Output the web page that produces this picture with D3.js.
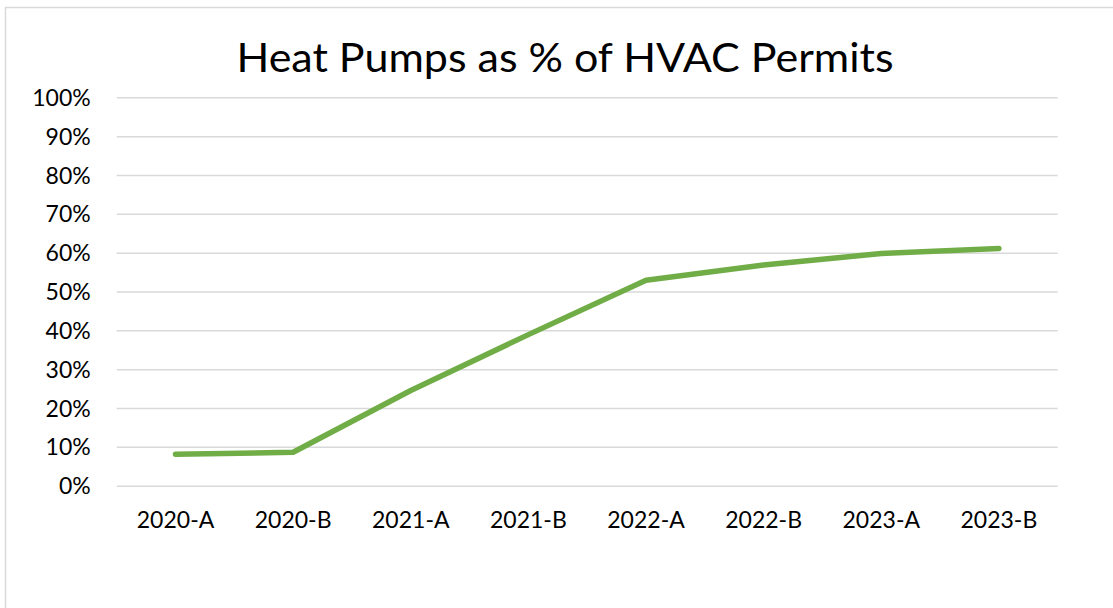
<!DOCTYPE html>
<html>
<head>
<meta charset="utf-8">
<script src="https://cdn.jsdelivr.net/npm/d3@7"></script>
<style>
  html, body { margin: 0; padding: 0; background: #fff; }
  svg { display: block; }
</style>
</head>
<body>
<svg id="chart" width="1113" height="608"></svg>
<script>
const title = "Heat Pumps as % of HVAC Permits";
const categories = ["2020-A", "2020-B", "2021-A", "2021-B", "2022-A", "2022-B", "2023-A", "2023-B"];
const values = [0.081, 0.086, 0.245, 0.389, 0.529, 0.568, 0.598, 0.611];
const yTicks = [0, 0.1, 0.2, 0.3, 0.4, 0.5, 0.6, 0.7, 0.8, 0.9, 1.0];

const svg = d3.select("#chart");
const W = 1113, H = 608;
const margin = { left: 116.7, right: W - 1057.7, top: 97.3, bottom: H - 485.7 };
const font = "Lato, 'Open Sans', sans-serif";

// chart border
svg.append("rect")
  .attr("x", 5.5).attr("y", 7.5)
  .attr("width", W + 10).attr("height", H + 10)
  .attr("fill", "#fff").attr("stroke", "#d9d9d9").attr("stroke-width", 1.5);

const x = d3.scaleBand().domain(categories).range([margin.left, W - margin.right]);
const y = d3.scaleLinear().domain([0, 1]).range([H - margin.bottom, margin.top]);

// gridlines + y labels
const yAxis = d3.axisLeft(y).tickValues(yTicks)
  .tickSize(-(W - margin.left - margin.right))
  .tickPadding(26)
  .tickFormat(d3.format(".0%"));
const gy = svg.append("g").attr("transform", `translate(${margin.left},0)`).call(yAxis);
gy.select(".domain").remove();
gy.selectAll(".tick line").attr("stroke", "#d9d9d9").attr("stroke-width", 1.5);
gy.selectAll(".tick text")
  .attr("font-family", font).attr("font-size", 23).attr("fill", "#000")
  .attr("dy", "0.35em");

// x labels
const xAxis = d3.axisBottom(x).tickSize(0).tickPadding(0);
const gx = svg.append("g").attr("transform", `translate(0,${H - margin.bottom})`).call(xAxis);
gx.select(".domain").remove();
gx.selectAll(".tick text")
  .attr("font-family", font).attr("font-size", 23).attr("fill", "#000")
  .attr("dy", null).attr("y", 42.6);

// line
const line = d3.line()
  .x((d, i) => x(categories[i]) + x.bandwidth() / 2)
  .y(d => y(d));
svg.append("path")
  .datum(values)
  .attr("d", line)
  .attr("fill", "none")
  .attr("stroke", "#70ad47")
  .attr("stroke-width", 5.5)
  .attr("stroke-linecap", "round")
  .attr("stroke-linejoin", "round");

// title
svg.append("text")
  .attr("x", 236.5).attr("y", 72.3)
  .attr("font-family", font).attr("font-size", 40).attr("fill", "#000")
  .attr("textLength", 657).attr("lengthAdjust", "spacingAndGlyphs")
  .text(title);
</script>
</body>
</html>
